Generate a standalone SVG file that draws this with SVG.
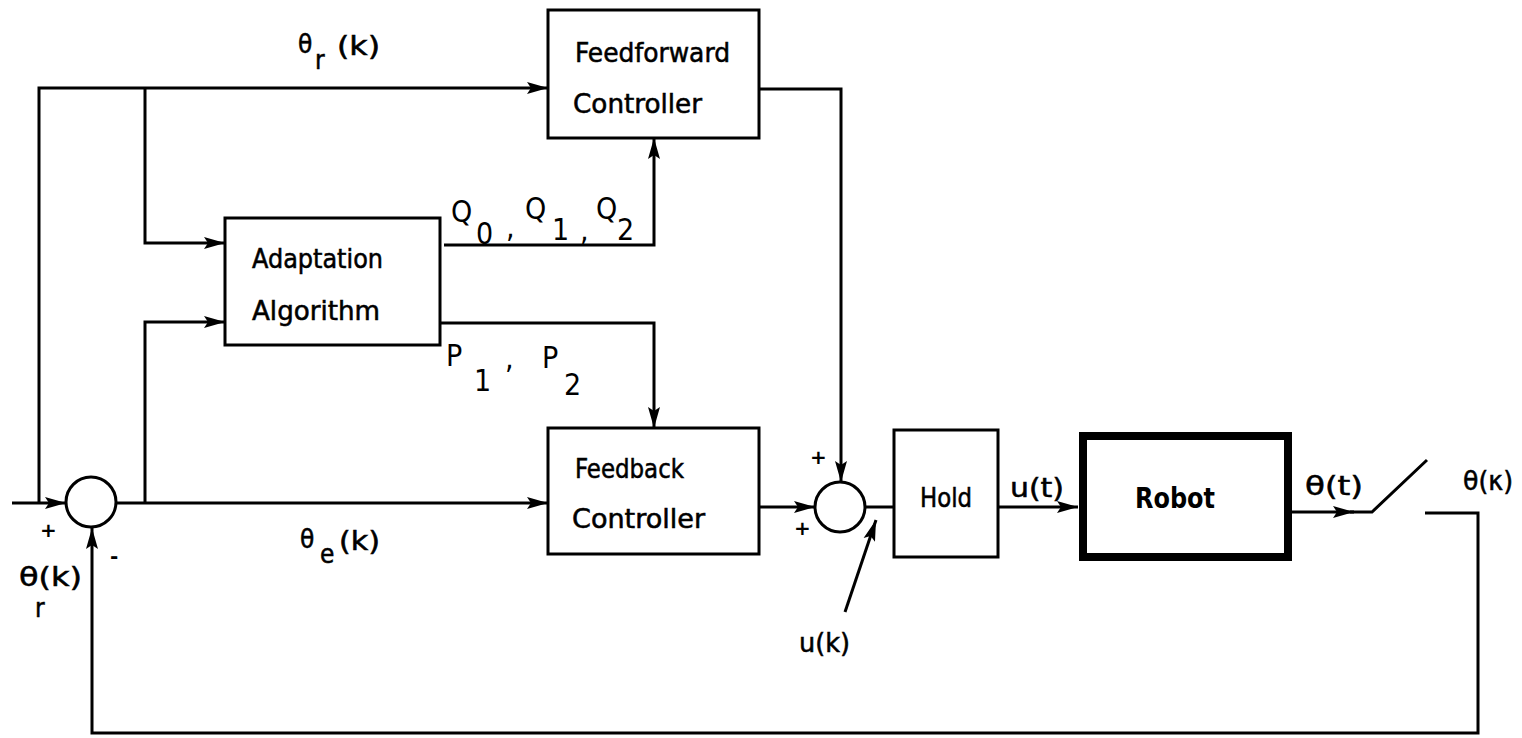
<svg xmlns="http://www.w3.org/2000/svg" width="1522" height="738" viewBox="0 0 1522 738">
<style>
.ln{fill:none;stroke:#000;stroke-width:3}
.bx{fill:#fff;stroke:#000;stroke-width:3}
.t{font-family:"DejaVu Sans Condensed","DejaVu Sans",sans-serif;font-size:26px;fill:#000;stroke:#000;stroke-width:0.5}
.m{font-family:"DejaVu Sans Condensed","DejaVu Sans",sans-serif;font-size:30px;fill:#000}
.s{font-family:"DejaVu Sans","Liberation Sans",sans-serif;font-size:20px;font-weight:bold;fill:#000}
</style>
<defs>
<marker id="ah" markerUnits="userSpaceOnUse" markerWidth="22" markerHeight="16" refX="21" refY="8" orient="auto"><path d="M0,2 L21,8 L0,14 L4,8 z" fill="#000"/></marker>
</defs>
<rect width="1522" height="738" fill="#fff"/>

<g id="connectors">
<path class="ln" d="M12,503 H66" marker-end="url(#ah)"/>
<path class="ln" d="M39,503 V88 H548" marker-end="url(#ah)"/>
<path class="ln" d="M145,88 V243 H225" marker-end="url(#ah)"/>
<path class="ln" d="M117,503 H548" marker-end="url(#ah)"/>
<path class="ln" d="M145,503 V322 H225" marker-end="url(#ah)"/>
<path class="ln" d="M444,245 H654 V138" marker-end="url(#ah)"/>
<path class="ln" d="M439,323 H654 V428" marker-end="url(#ah)"/>
<path class="ln" d="M759,89 H841 V482" marker-end="url(#ah)"/>
<path class="ln" d="M759,507 H815" marker-end="url(#ah)"/>
<path class="ln" d="M865,507 H894"/>
<path class="ln" d="M998,507 H1078" marker-end="url(#ah)"/>
<path class="ln" d="M1292,512 H1354" marker-end="url(#ah)"/>
<path class="ln" d="M1350,512 H1372 L1427,460"/>
<path class="ln" d="M1425,513 H1478 V733 H92 V528" marker-end="url(#ah)"/>
<path class="ln" d="M845,612 L876,520" marker-end="url(#ah)"/>
</g>

<g id="sum1"><circle class="bx" cx="91" cy="502" r="25"/></g>
<g id="sum2"><circle class="bx" cx="840" cy="507" r="25"/></g>

<g id="feedforward">
<rect class="bx" x="548" y="10" width="211" height="128"/>
<text class="t" x="575" y="62" textLength="155" lengthAdjust="spacingAndGlyphs">Feedforward</text>
<text class="t" x="573" y="113" textLength="129" lengthAdjust="spacingAndGlyphs">Controller</text>
</g>

<g id="adaptation">
<rect class="bx" x="225" y="218" width="215" height="127"/>
<text class="t" x="252" y="268" textLength="131" lengthAdjust="spacingAndGlyphs">Adaptation</text>
<text class="t" x="252" y="320" textLength="128" lengthAdjust="spacingAndGlyphs">Algorithm</text>
</g>

<g id="feedback">
<rect class="bx" x="548" y="428" width="211" height="126"/>
<text class="t" x="575" y="478" textLength="109" lengthAdjust="spacingAndGlyphs">Feedback</text>
<text class="t" x="572" y="528" textLength="133" lengthAdjust="spacingAndGlyphs">Controller</text>
</g>

<g id="hold">
<rect class="bx" x="894" y="430" width="104" height="127"/>
<text class="t" x="920" y="507" font-size="27" textLength="52" lengthAdjust="spacingAndGlyphs">Hold</text>
</g>

<g id="robot">
<rect x="1083" y="436" width="205" height="121" fill="#fff" stroke="#000" stroke-width="8"/>
<text x="1135" y="508" font-family="DejaVu Sans Condensed, DejaVu Sans, sans-serif" font-size="28" font-weight="bold" textLength="80" lengthAdjust="spacingAndGlyphs">Robot</text>
</g>

<g id="labels">
<text class="t" x="298" y="53" font-size="22">θ</text>
<text class="t" x="315" y="69">r</text>
<text class="t" x="337" y="55" textLength="43" lengthAdjust="spacingAndGlyphs">(k)</text>

<text class="t" x="300" y="548" font-size="22">θ</text>
<text class="t" x="320" y="563">e</text>
<text class="t" x="339" y="550" textLength="41" lengthAdjust="spacingAndGlyphs">(k)</text>

<text class="t" x="19" y="586" textLength="63" lengthAdjust="spacingAndGlyphs">θ(k)</text>
<text class="t" x="35" y="617">r</text>

<text class="s" x="40" y="537">+</text>
<text class="s" x="110" y="563">-</text>
<text class="s" x="810" y="464">+</text>
<text class="s" x="794" y="535">+</text>

<text class="t" x="1010" y="497" textLength="54" lengthAdjust="spacingAndGlyphs">u(t)</text>
<text class="t" x="1305" y="495" textLength="58" lengthAdjust="spacingAndGlyphs">θ(t)</text>
<text class="t" x="1463" y="490" textLength="50" lengthAdjust="spacingAndGlyphs">θ(κ)</text>
<text class="t" x="799" y="652" textLength="51" lengthAdjust="spacingAndGlyphs">u(k)</text>

<text class="m" x="451" y="222">Q</text>
<text class="m" x="476" y="244">0</text>
<text class="m" x="506" y="237">,</text>
<text class="m" x="525" y="219">Q</text>
<text class="m" x="552" y="240">1</text>
<text class="m" x="580" y="240">,</text>
<text class="m" x="596" y="219">Q</text>
<text class="m" x="617" y="240">2</text>

<text class="m" x="446" y="366">P</text>
<text class="m" x="474" y="391">1</text>
<text class="m" x="505" y="368">,</text>
<text class="m" x="542" y="368">P</text>
<text class="m" x="564" y="395">2</text>
</g>
</svg>
